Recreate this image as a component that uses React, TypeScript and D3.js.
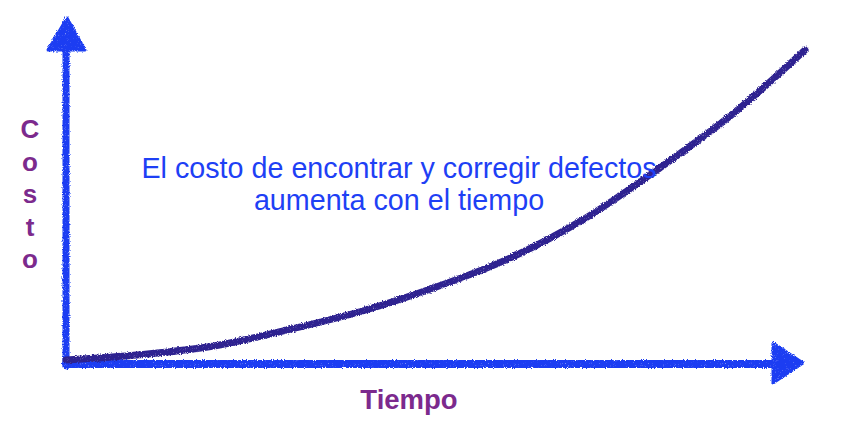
import React from "react";
import * as d3 from "d3";

const timePoints = [0, 1, 2, 3, 4, 5, 6, 7, 8, 9, 10];
const costValues = [0.03, 0.2, 0.48, 1.0, 1.6, 2.37, 3.3, 4.55, 6.15, 7.9, 10];
const annotationLines = ["El costo de encontrar y corregir defectos", "aumenta con el tiempo"];
const yAxisLetters = ["C", "o", "s", "t", "o"];
const xAxisLabel = "Tiempo";

const AXIS_BLUE = "#1c3ef2";
const CURVE = "#2e2290";
const TEXT_BLUE = "#1e40f5";
const PURPLE = "#7c2a8d";

export default function App() {
  const W = 848;
  const H = 428;
  const x = d3.scaleLinear().domain([0, 10]).range([66, 805]);
  const y = d3.scaleLinear().domain([0, 10]).range([361, 50]);

  const line = d3
    .line<number>()
    .x((_, i) => x(timePoints[i]))
    .y((d) => y(d))
    .curve(d3.curveCatmullRom.alpha(0.5));

  const x0 = x(0);
  const y0 = y(0) + 3;
  const xTip = x.range()[1] - 2;
  const xArrowBase = xTip - 30;
  const yTip = 18;
  const yArrowBase = 50;

  return (
    <div style={{ position: "absolute", left: 0, top: 0 }}>
      <svg width={W} height={H} style={{ display: "block", background: "#fff" }}>
        <defs>
          <filter id="rough" filterUnits="userSpaceOnUse" x={0} y={0} width={W} height={H}>
            <feTurbulence type="fractalNoise" baseFrequency="0.9" numOctaves={2} seed={4} result="noise" />
            <feDisplacementMap in="SourceGraphic" in2="noise" scale={3.5} xChannelSelector="R" yChannelSelector="G" result="disp" />
            <feTurbulence type="fractalNoise" baseFrequency="1.6" numOctaves={1} seed={9} result="speck" />
            <feColorMatrix in="speck" type="matrix" values="0 0 0 0 0  0 0 0 0 0  0 0 0 0 0  0 0 0 -2.2 2.4" result="mask" />
            <feComposite in="disp" in2="mask" operator="in" />
          </filter>
        </defs>
        <g filter="url(#rough)">
          {/* y axis */}
          <line x1={x0} y1={y0 + 2} x2={x0} y2={yArrowBase - 2} stroke={AXIS_BLUE} strokeWidth={7} strokeLinecap="round" />
          <path
            d={`M${x0 - 18},${yArrowBase} L${x0 + 1},${yTip} L${x0 + 19},${yArrowBase} Z`}
            fill={AXIS_BLUE}
            stroke={AXIS_BLUE}
            strokeWidth={3}
            strokeLinejoin="round"
          />
          {/* x axis */}
          <line x1={x0} y1={y0} x2={xArrowBase + 2} y2={y0} stroke={AXIS_BLUE} strokeWidth={8} strokeLinecap="round" />
          <path
            d={`M${xArrowBase},${y0 - 21} L${xTip},${y0 - 1} L${xArrowBase},${y0 + 19} Z`}
            fill={AXIS_BLUE}
            stroke={AXIS_BLUE}
            strokeWidth={3}
            strokeLinejoin="round"
          />
          {/* curve */}
          <path d={line(costValues) || ""} fill="none" stroke={CURVE} strokeWidth={7} strokeLinecap="round" />
        </g>

        {annotationLines.map((t, i) => (
          <text
            key={i}
            x={399}
            y={178 + i * 32}
            textAnchor="middle"
            fontFamily="'Liberation Sans', Arial, sans-serif"
            fontSize={28.7}
            fill={TEXT_BLUE}
          >
            {t}
          </text>
        ))}

        {yAxisLetters.map((c, i) => (
          <text
            key={i}
            x={30}
            y={138 + i * 32.5}
            textAnchor="middle"
            fontFamily="'Liberation Sans', Arial, sans-serif"
            fontWeight="bold"
            fontSize={26}
            fill={PURPLE}
          >
            {c}
          </text>
        ))}

        <text
          x={409}
          y={409}
          textAnchor="middle"
          fontFamily="'Liberation Sans', Arial, sans-serif"
          fontWeight="bold"
          fontSize={27.5}
          fill={PURPLE}
        >
          {xAxisLabel}
        </text>
      </svg>
    </div>
  );
}
